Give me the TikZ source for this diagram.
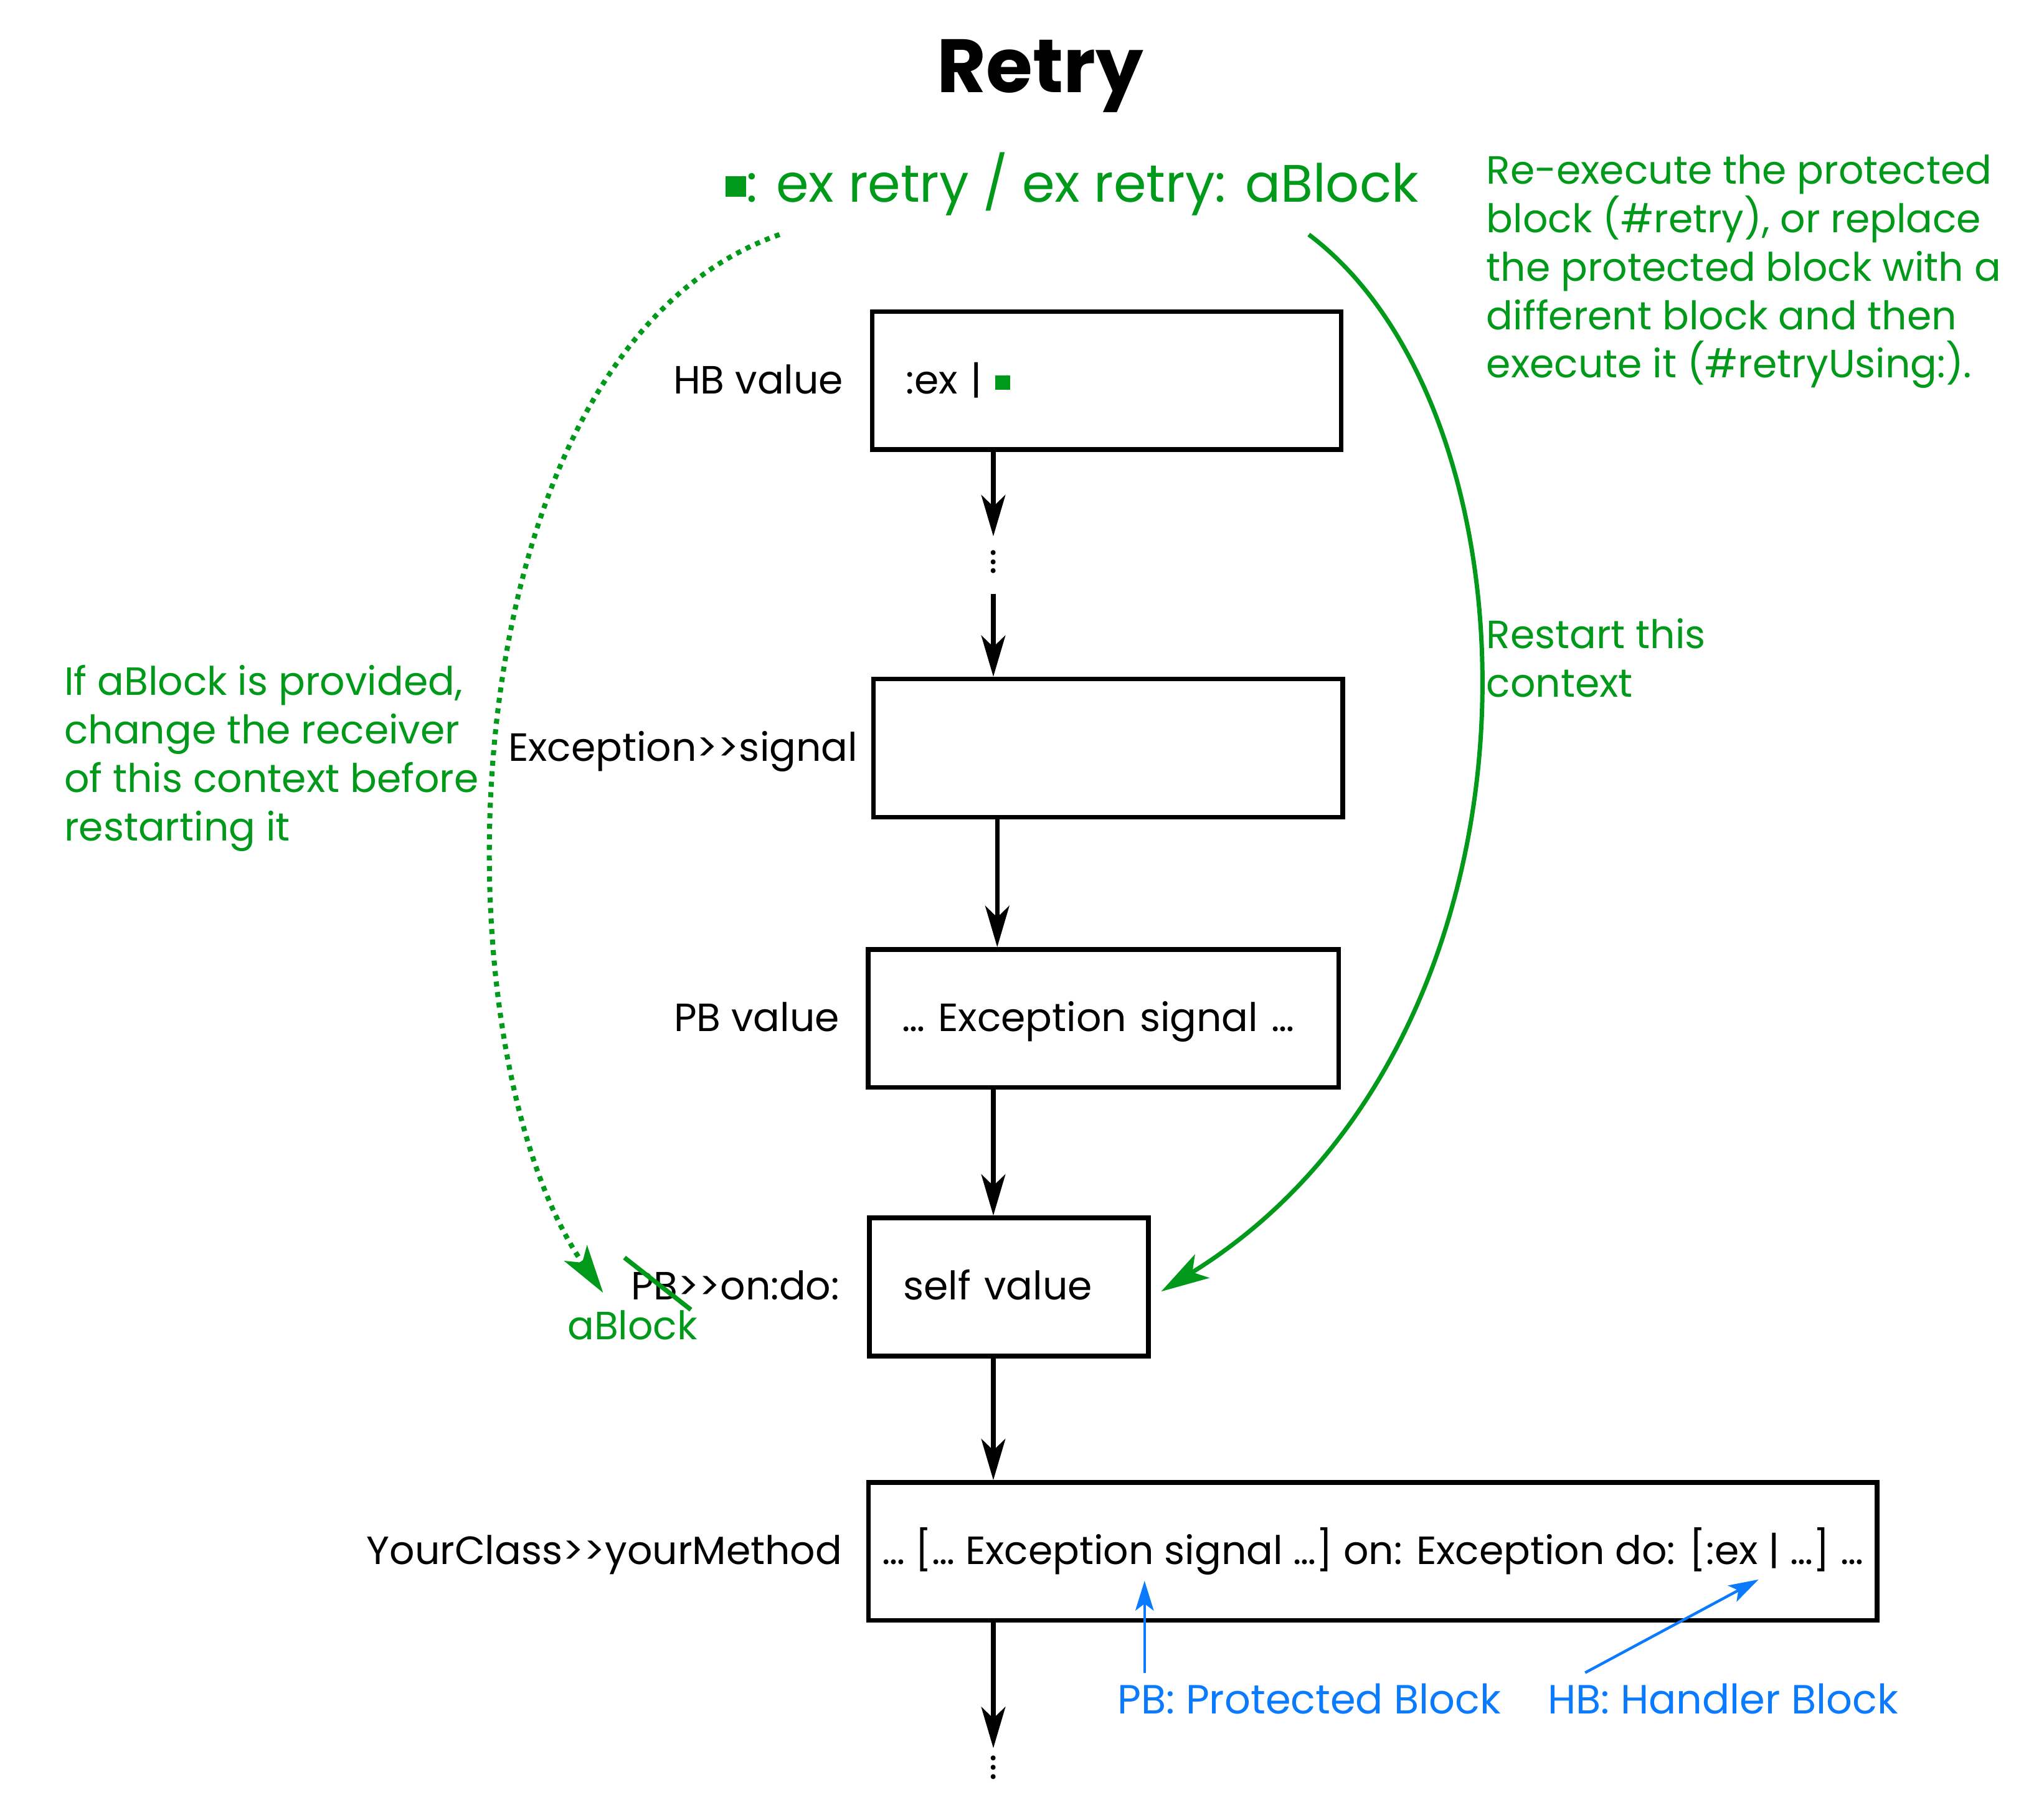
\documentclass[tikz,border=0pt]{standalone}
\usepackage{fontspec}
\setmainfont{Poppins}
\usetikzlibrary{arrows.meta,positioning,calc}

\definecolor{retrygreen}{RGB}{0,153,26}
\definecolor{noteblue}{RGB}{10,122,255}
\newcommand{\bodyfont}{\fontsize{17.2}{21.2}\selectfont}
\newcommand{\greensq}[1]{\textcolor{retrygreen}{\raisebox{0.18ex}{\rule{#1}{#1}}}}
\newcommand{\sendto}{>\kern0pt>}

\begin{document}
\begin{tikzpicture}[x=0.02cm, y=-0.02cm,
    ctx/.style={draw, line width=2pt, minimum height=2.12cm, inner xsep=0.52cm, text height=14pt, text depth=2.6pt, font=\bodyfont},
    lbl/.style={inner sep=0pt, text height=14pt, text depth=2.6pt, font=\bodyfont},
    note/.style={anchor=base west, align=left, inner sep=0pt, text=retrygreen, font=\bodyfont},
    bnote/.style={anchor=base west, inner sep=0pt, text=noteblue, font=\fontsize{17.8}{21.2}\selectfont},
    arr/.style={-{Stealth[length=18pt, width=10.5pt, inset=5pt]}, line width=2pt},
    garr/.style={-{Stealth[length=21pt, width=12pt, inset=5pt]}, line width=1.9pt, retrygreen},
    gdots/.style={garr, dash pattern=on 2.2pt off 2.4pt, line width=2.2pt},
    barr/.style={-{Stealth[length=13pt, width=8pt, inset=3pt]}, line width=1.2pt, noteblue}
]
\useasboundingbox (0,0) rectangle (1568,1381);

% title and the handler's message
\node[anchor=base, inner sep=0pt, font=\fontsize{33}{40}\selectfont\bfseries] (title) at (798,71) {Retry};
\node[anchor=base, inner sep=0pt, text=retrygreen, font=\fontsize{23}{28}\selectfont] (cmd) at (822.5,155) {\greensq{9pt}: ex retry / ex retry: aBlock};

% the context stack
\node[ctx, minimum width=7.2cm, text width=6.16cm, align=left] (hb) at (849,292) {:ex | \greensq{6.3pt}};
\node[ctx, minimum width=7.2cm] (exc) at (850,574) {};
\node[ctx, minimum width=7.22cm, text width=6.18cm, align=left] (pbv) at (846.5,781.5) {… Exception signal …};
\node[ctx, minimum width=4.28cm, text width=3.24cm, align=left] (self) at (774,987.5) {self value};
\node[ctx, minimum width=15.48cm, inner xsep=0.15cm] (ym) at (1053,1190.5) {… [… Exception signal …] on: Exception do: [:ex | …] …};

\node[lbl, left=0.4cm of hb] (hblbl) {HB value};
\node[lbl, left=0.2cm of exc] (exclbl) {Exception\sendto signal};
\node[lbl, left=0.4cm of pbv] (pbvlbl) {PB value};
\node[lbl, left=0.42cm of self] (ondo) {PB\sendto on:do:};
\node[lbl, left=0.36cm of ym] (ymlbl) {YourClass\sendto yourMethod};

\node[inner sep=0pt, font=\bodyfont] (dots1) at (762,426) {$\vdots$};
\node[inner sep=0pt, font=\bodyfont] (dots2) at (762,1351) {$\vdots$};

\coordinate (spine) at (762,0);
\coordinate (spine2) at (765,0);
\draw[arr] (hb.south -| spine) -- (dots1.north);
\draw[arr, shorten <=8.8pt] (dots1.south) -- (exc.north -| spine);
\draw[arr] (exc.south -| spine2) -- (pbv.north -| spine2);
\draw[arr] (pbv.south -| spine) -- (self.north -| spine);
\draw[arr] (self.south -| spine) -- (ym.north -| spine);
\draw[arr, shorten >=-2.8pt] (ym.south -| spine) -- (dots2.north);

% blue legend
\node[bnote] (pbnote) at (857,1315) {PB: Protected Block};
\node[bnote] (hbnote) at (1187,1315) {HB: Handler Block};
\coordinate (pbtip) at (878,1213);
\coordinate (hbtip) at (1349,1212);
\draw[barr] ($(pbnote.north west)+(21,-8)$) -- (pbtip);
\draw[barr] ($(hbnote.north west)+(29,-8)$) -- (hbtip);

% green notes (base = last line)
\node[note] (reexec) at (1140,290) {Re-execute the protected\\block (\#retry), or replace\\the protected block with a\\different block and then\\execute it (\#retryUsing:).};
\node[note] (restart) at (1140,535) {Restart this\\context};
\node[note] (ifblock) at (49,645) {If aBlock is provided,\\change the receiver\\of this context before\\restarting it};
\node[note] (ablock) at (435,1028) {aBlock};
\draw[retrygreen, line width=2pt] (479,965) -- (530,1005);

\coordinate (retryfrom) at (598,180);
\coordinate (restartfrom) at (1004,180);
\draw[gdots] (retryfrom) .. controls (340,270) and (330,800) .. ([xshift=-0.42cm,yshift=-0.09cm]ondo.west);
\draw[garr] (restartfrom) .. controls (1190,320) and (1200,800) .. ([xshift=0.16cm,yshift=-0.07cm]self.east);
\end{tikzpicture}
\end{document}
